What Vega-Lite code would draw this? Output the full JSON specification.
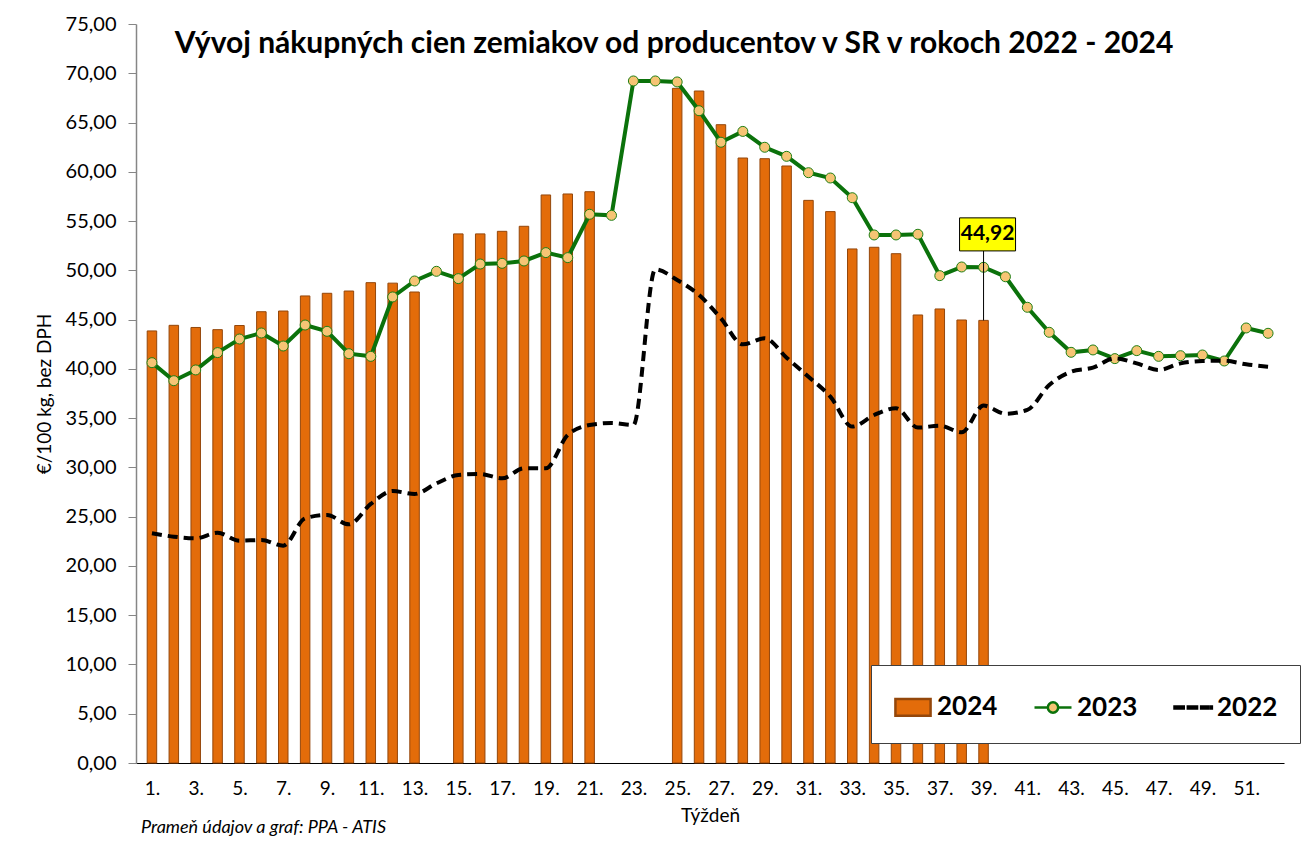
{
  "$schema": "https://vega.github.io/schema/vega-lite/v6.json",
  "width": 1148,
  "height": 739,
  "autosize": {"type": "none"},
  "padding": {"left": 136, "top": 24, "right": 25, "bottom": 81},
  "background": "white",
  "title": {
    "text": "Vývoj nákupných cien zemiakov od producentov v SR v rokoch 2022 - 2024",
    "font": "Lato", "fontSize": 30, "fontWeight": "bold", "color": "black",
    "anchor": "middle", "offset": -45, "dx": -36
  },
  "config": {
    "view": {"stroke": null},
    "axis": {"grid": false, "labelFont": "Lato", "titleFont": "Lato", "labelColor": "black", "titleColor": "black", "titleFontWeight": "normal", "titleFontSize": 19},
    "axisX": {"titleFontSize": 19, "labelFontSize": 19},
    "axisY": {"titleFontSize": 19, "labelFontSize": 20},
    "legend": {
      "orient": "none", "legendX": 735, "legendY": 641, "direction": "horizontal", "columns": 3,
      "fillColor": "white", "strokeColor": "#404040", "padding": 22, "columnPadding": 31,
      "labelFont": "Lato", "labelFontSize": 26, "labelFontWeight": "bold", "labelColor": "black",
      "labelOffset": 4, "symbolSize": 1369, "symbolStrokeWidth": 2.5, "symbolOpacity": 1
    }
  },
  "datasets": {
    "d2024": [
      {"week": 1, "value": 43.85}, {"week": 2, "value": 44.42}, {"week": 3, "value": 44.2},
      {"week": 4, "value": 43.98}, {"week": 5, "value": 44.4}, {"week": 6, "value": 45.8},
      {"week": 7, "value": 45.87}, {"week": 8, "value": 47.4}, {"week": 9, "value": 47.67},
      {"week": 10, "value": 47.9}, {"week": 11, "value": 48.75}, {"week": 12, "value": 48.7},
      {"week": 13, "value": 47.8}, {"week": 15, "value": 53.7}, {"week": 16, "value": 53.7},
      {"week": 17, "value": 53.96}, {"week": 18, "value": 54.47}, {"week": 19, "value": 57.65},
      {"week": 20, "value": 57.75}, {"week": 21, "value": 57.98}, {"week": 25, "value": 68.47},
      {"week": 26, "value": 68.2}, {"week": 27, "value": 64.78}, {"week": 28, "value": 61.4},
      {"week": 29, "value": 61.33}, {"week": 30, "value": 60.59}, {"week": 31, "value": 57.1},
      {"week": 32, "value": 55.96}, {"week": 33, "value": 52.17}, {"week": 34, "value": 52.34},
      {"week": 35, "value": 51.69}, {"week": 36, "value": 45.47}, {"week": 37, "value": 46.08},
      {"week": 38, "value": 44.96}, {"week": 39, "value": 44.92}
    ],
    "d2023": [
      {"week": 1, "value": 40.63}, {"week": 2, "value": 38.8}, {"week": 3, "value": 39.89},
      {"week": 4, "value": 41.65}, {"week": 5, "value": 43.03}, {"week": 6, "value": 43.64},
      {"week": 7, "value": 42.32}, {"week": 8, "value": 44.45}, {"week": 9, "value": 43.81},
      {"week": 10, "value": 41.54}, {"week": 11, "value": 41.27}, {"week": 12, "value": 47.3},
      {"week": 13, "value": 48.92}, {"week": 14, "value": 49.9}, {"week": 15, "value": 49.16},
      {"week": 16, "value": 50.64}, {"week": 17, "value": 50.71}, {"week": 18, "value": 50.95},
      {"week": 19, "value": 51.8}, {"week": 20, "value": 51.29}, {"week": 21, "value": 55.69},
      {"week": 22, "value": 55.58}, {"week": 23, "value": 69.22}, {"week": 24, "value": 69.22},
      {"week": 25, "value": 69.12}, {"week": 26, "value": 66.2}, {"week": 27, "value": 63.0},
      {"week": 28, "value": 64.1}, {"week": 29, "value": 62.49}, {"week": 30, "value": 61.57},
      {"week": 31, "value": 59.91}, {"week": 32, "value": 59.37}, {"week": 33, "value": 57.37},
      {"week": 34, "value": 53.59}, {"week": 35, "value": 53.59}, {"week": 36, "value": 53.66},
      {"week": 37, "value": 49.46}, {"week": 38, "value": 50.34}, {"week": 39, "value": 50.31},
      {"week": 40, "value": 49.35}, {"week": 41, "value": 46.25}, {"week": 42, "value": 43.71},
      {"week": 43, "value": 41.68}, {"week": 44, "value": 41.92}, {"week": 45, "value": 41.04},
      {"week": 46, "value": 41.85}, {"week": 47, "value": 41.27}, {"week": 48, "value": 41.34},
      {"week": 49, "value": 41.41}, {"week": 50, "value": 40.8}, {"week": 51, "value": 44.15},
      {"week": 52, "value": 43.61}
    ],
    "d2022": [
      {"week": 1, "value": 23.31}, {"week": 2, "value": 22.97}, {"week": 3, "value": 22.8},
      {"week": 4, "value": 23.37}, {"week": 5, "value": 22.56}, {"week": 6, "value": 22.63},
      {"week": 7, "value": 22.06}, {"week": 8, "value": 24.83}, {"week": 9, "value": 25.17},
      {"week": 10, "value": 24.22}, {"week": 11, "value": 26.29}, {"week": 12, "value": 27.6},
      {"week": 13, "value": 27.3}, {"week": 14, "value": 28.38}, {"week": 15, "value": 29.23},
      {"week": 16, "value": 29.33}, {"week": 17, "value": 28.89}, {"week": 18, "value": 29.91},
      {"week": 19, "value": 29.91}, {"week": 20, "value": 33.29}, {"week": 21, "value": 34.3},
      {"week": 22, "value": 34.5}, {"week": 23, "value": 34.3}, {"week": 24, "value": 50.1},
      {"week": 25, "value": 49.02}, {"week": 26, "value": 47.5}, {"week": 27, "value": 45.13},
      {"week": 28, "value": 42.49}, {"week": 29, "value": 43.1}, {"week": 30, "value": 41.13},
      {"week": 31, "value": 39.2}, {"week": 32, "value": 37.18}, {"week": 33, "value": 34.14},
      {"week": 34, "value": 35.32}, {"week": 35, "value": 36.0}, {"week": 36, "value": 34.04},
      {"week": 37, "value": 34.24}, {"week": 38, "value": 33.56}, {"week": 39, "value": 36.27},
      {"week": 40, "value": 35.45}, {"week": 41, "value": 35.83}, {"week": 42, "value": 38.36},
      {"week": 43, "value": 39.71}, {"week": 44, "value": 40.12}, {"week": 45, "value": 41.07},
      {"week": 46, "value": 40.56}, {"week": 47, "value": 39.89}, {"week": 48, "value": 40.56},
      {"week": 49, "value": 40.8}, {"week": 50, "value": 40.83}, {"week": 51, "value": 40.46},
      {"week": 52, "value": 40.22}
    ],
    "series": [{"series": "2024"}, {"series": "2023"}, {"series": "2022"}],
    "lbl": [{"week": 39, "value": 44.92, "label": "44,92"}],
    "src": [{"week": 0.5, "value": 0, "t": "Prameň údajov a graf: PPA - ATIS"}]
  },
  "encoding": {
    "x": {
      "field": "week", "type": "quantitative",
      "scale": {"domain": [0.5, 52.5], "nice": false, "zero": false},
      "axis": {
        "title": "Týždeň", "titleFontSize": 19, "titlePadding": 8,
        "values": [1,3,5,7,9,11,13,15,17,19,21,23,25,27,29,31,33,35,37,39,41,43,45,47,49,51],
        "labelExpr": "datum.value + '.'", "labelFontSize": 19, "labelPadding": 16,
        "ticks": false, "domainColor": "black", "domainWidth": 1.2, "labelFlush": false, "labelOverlap": false
      }
    },
    "y": {
      "field": "value", "type": "quantitative",
      "scale": {"domain": [0, 75], "nice": false},
      "axis": {
        "title": "€/100 kg, bez DPH", "titleFontSize": 19, "titlePadding": 11,
        "values": [0,5,10,15,20,25,30,35,40,45,50,55,60,65,70,75],
        "labelExpr": "replace(format(datum.value, '.2f'), '.', ',')",
        "labelFontSize": 20, "labelPadding": 12, "tickSize": 8,
        "domainColor": "#868686", "tickColor": "#868686", "domainWidth": 1.5
      }
    }
  },
  "layer": [
    {
      "data": {"name": "d2024"},
      "mark": {"type": "bar", "size": 9.5, "color": "#E36C0A", "stroke": "#94470B", "strokeWidth": 1}
    },
    {
      "data": {"name": "d2023"},
      "mark": {"type": "line", "color": "#0B720B", "strokeWidth": 4}
    },
    {
      "data": {"name": "d2023"},
      "mark": {"type": "point", "shape": "circle", "filled": true, "fill": "#F6C474", "stroke": "#1F7F14", "strokeWidth": 1, "size": 100, "opacity": 1}
    },
    {
      "data": {"name": "d2022"},
      "mark": {"type": "line", "color": "black", "strokeWidth": 4, "strokeDash": [10, 6], "interpolate": "monotone"}
    },
    {
      "data": {"name": "series"},
      "mark": {"type": "point", "filled": true, "opacity": 1},
      "encoding": {
        "shape": {
          "field": "series", "type": "nominal",
          "scale": {"domain": ["2024", "2023", "2022"], "range": [
            "M-0.95,-0.45H0.95V0.45H-0.95Z",
            "M-1,0H-0.28M0.28,0H1M-0.28,0A0.28,0.28 0 1,0 0.28,0A0.28,0.28 0 1,0 -0.28,0Z",
            "M-1,-0.06H-0.5V0.06H-1Z M-0.28,-0.06H0.22V0.06H-0.28Z M0.44,-0.06H0.8V0.06H0.44Z M0.94,-0.05H1.02V0.05H0.94Z"
          ]},
          "legend": {"title": null}
        },
        "fill": {
          "field": "series", "type": "nominal",
          "scale": {"domain": ["2024", "2023", "2022"], "range": ["#E36C0A", "#F6C474", "#000000"]},
          "legend": {"title": null}
        },
        "stroke": {
          "field": "series", "type": "nominal",
          "scale": {"domain": ["2024", "2023", "2022"], "range": ["#94470B", "#0B720B", "#000000"]},
          "legend": {"title": null}
        }
      }
    },
    {
      "data": {"name": "lbl"},
      "mark": {"type": "rule", "color": "black", "strokeWidth": 1, "y2Offset": -70},
      "encoding": {"y2": {"field": "value"}}
    },
    {
      "data": {"name": "lbl"},
      "mark": {"type": "point", "shape": "M-1,-0.59H1V0.59H-1Z", "size": 3136, "filled": true, "fill": "#FFFF00", "stroke": "black", "strokeWidth": 1, "opacity": 1, "yOffset": -86, "xOffset": 4}
    },
    {
      "data": {"name": "lbl"},
      "mark": {"type": "text", "font": "Lato", "fontSize": 21, "fontWeight": "bold", "color": "black", "baseline": "middle", "align": "center", "dy": -86, "dx": 4},
      "encoding": {"text": {"field": "label"}}
    },
    {
      "data": {"name": "src"},
      "mark": {"type": "text", "font": "Lato", "fontSize": 18, "fontStyle": "italic", "color": "black", "align": "left", "baseline": "middle", "dy": 65},
      "encoding": {"text": {"field": "t"}}
    }
  ]
}
